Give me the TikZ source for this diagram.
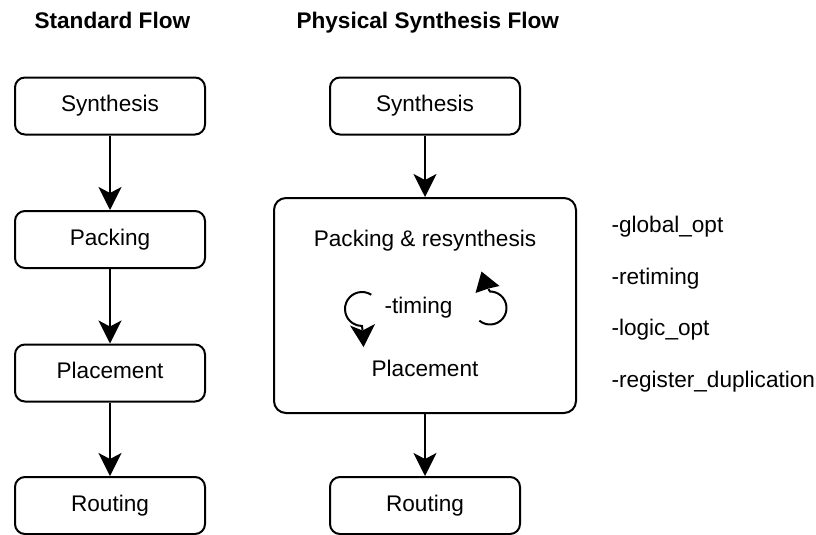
\documentclass[tikz,border=0pt]{standalone}
\usepackage{fontspec}
\setmainfont{Liberation Sans}
\usetikzlibrary{arrows.meta}
\begin{document}
\begin{tikzpicture}[x=1pt,y=-1pt,
  every node/.style={font=\fontsize{22.6}{27}\selectfont},
  box/.style={draw, line width=2pt, rounded corners=10pt, minimum width=190pt, minimum height=57pt, inner sep=0pt, text height=15pt, text depth=4pt},
  bigbox/.style={draw, line width=2pt, rounded corners=12pt, minimum width=302pt, minimum height=215pt, inner sep=0pt},
  flowarrow/.style={line width=2pt, -{Stealth[length=23pt, width=23pt, inset=6pt]}},
  title/.style={anchor=base west, font=\fontsize{22.6}{27}\selectfont\bfseries},
  optlabel/.style={anchor=base west},
  inlabel/.style={anchor=base},
  curl/.style={line width=2pt}
]
\useasboundingbox (0,0) rectangle (816,535);

% titles
\node[title] (t1) at (31,28.3) {Standard Flow};
\node[title] (t2) at (293,28.3) {Physical Synthesis Flow};

% standard flow
\node[box] (ls) at (110,106) {Synthesis};
\node[box] (lp) at (110,239.5) {Packing};
\node[box] (ll) at (110,373) {Placement};
\node[box] (lr) at (110,505.5) {Routing};
\draw[flowarrow] (ls.south) -- (lp.north);
\draw[flowarrow] (lp.south) -- (ll.north);
\draw[flowarrow] (ll.south) -- (lr.north);

% physical synthesis flow
\node[box] (rs) at (425,106) {Synthesis};
\node[bigbox] (pr) at (425,305.5) {};
\node[box] (rr) at (425,505.5) {Routing};
\draw[flowarrow] (rs.south) -- (pr.north);
\draw[flowarrow] (pr.south) -- (rr.north);

\node[inlabel] (pk) at (425,246) {Packing \& resynthesis};
\node[inlabel] (tm) at (418.5,313) {-timing};
\node[inlabel] (pl) at (425,376) {Placement};

% curly arrows
\draw[curl] (362,309) ++(-57:17) arc[start angle=-57, end angle=-270, radius=17] -- (362.5,330);
\fill (363.5,347) -- (350,325.5) -- (362.5,330.5) -- (375,324) -- cycle;
\draw[curl] (490,308) ++(-230:16.5) arc[start angle=-230, end angle=-450, radius=16.5] -- (488.5,289);
\fill (481.5,271.5) -- (475.5,293) -- (488.5,288.5) -- (499.5,286) -- cycle;

% option labels
\node[optlabel] (o1) at (608,232) {-global\_opt};
\node[optlabel] (o2) at (608,284) {-retiming};
\node[optlabel] (o3) at (608,335) {-logic\_opt};
\node[optlabel] (o4) at (608,387) {-register\_duplication};
\end{tikzpicture}
\end{document}
